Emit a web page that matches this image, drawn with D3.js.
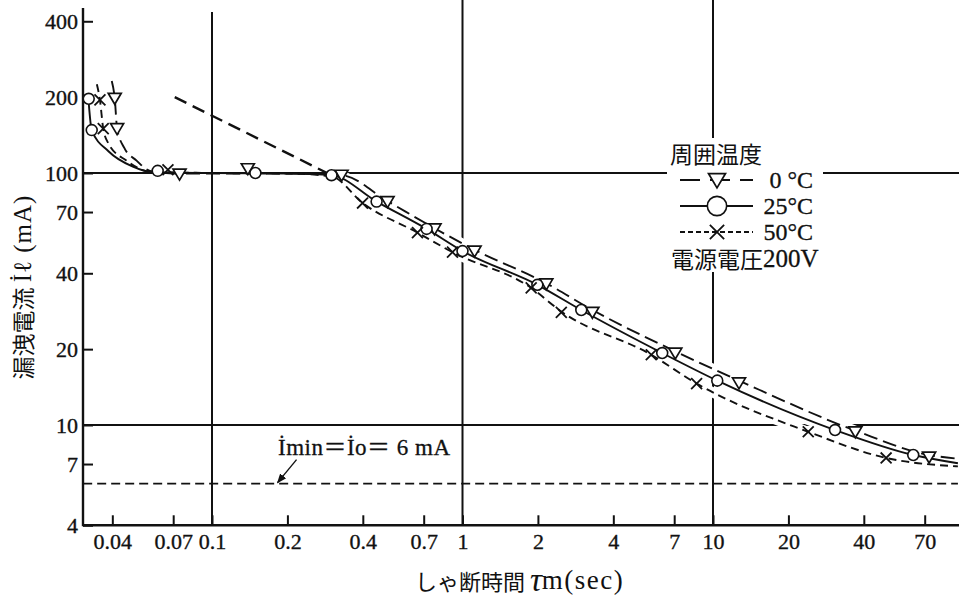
<!DOCTYPE html>
<html>
<head>
<meta charset="utf-8">
<script src="https://cdn.jsdelivr.net/npm/d3@7"></script>
<style>
  body { margin: 0; background: #fff; }
  svg { display: block; }
</style>
</head>
<body>
<div id="chart"></div>
<script>
// Tick values and labels
const xTicks = [0.04, 0.07, 0.1, 0.2, 0.4, 0.7, 1, 2, 4, 7, 10, 20, 40, 70];
const xTickLabels = ["0.04", "0.07", "0.1", "0.2", "0.4", "0.7", "1", "2", "4", "7", "10", "20", "40", "70"];
const yTicks = [4, 7, 10, 20, 40, 70, 100, 200, 400];
const xGrid = [0.1, 1, 10];
const yGrid = [10, 100];

// Measured points (sec, mA)
const pts0 = [[0.0409, 198], [0.0418, 150], [0.0742, 99], [0.139, 104], [0.329, 98], [0.502, 77], [0.773, 60], [1.117, 49], [2.16, 36.3], [3.30, 28], [7.07, 19.3], [12.7, 14.7], [37.0, 9.4], [72.9, 7.46]];
const pts25 = [[0.0322, 197], [0.0331, 148], [0.0607, 102], [0.149, 100], [0.300, 98], [0.454, 77], [0.719, 60], [1.0, 49], [1.99, 36], [2.98, 28.6], [6.27, 19.3], [10.4, 15], [30.7, 9.55], [63, 7.6]];
const pts50 = [[0.0357, 195], [0.0368, 150], [0.0667, 103], [0.399, 76], [0.661, 58], [0.912, 48.5], [1.88, 35], [2.48, 28], [5.67, 19], [8.6, 14.6], [24, 9.4], [49.1, 7.4]];

// Fitted curves
const curve0 = [[0.0398, 232], [0.0409, 198], [0.0418, 150], [0.0446, 126], [0.050, 112], [0.0565, 102], [0.075, 99.5], [0.2, 99.5], [0.33, 98], [0.5, 77.5], [0.77, 60.5], [1.12, 49.5], [2.16, 36.5], [3.3, 28.6], [7.07, 19.6], [12.7, 15.0], [37, 9.5], [73, 7.6], [95, 7.35]];
const curve25 = [[0.0322, 190], [0.0331, 148], [0.0386, 122], [0.0483, 106], [0.0575, 101], [0.1, 100], [0.2, 99.5], [0.3, 98], [0.454, 77], [0.719, 60], [1.0, 49], [1.99, 36], [2.98, 28.6], [6.27, 19.3], [10.4, 15.0], [30.7, 9.55], [63, 7.6], [95, 7.05]];
const curve50 = [[0.0347, 225], [0.0357, 195], [0.0368, 150], [0.0386, 131], [0.0455, 112], [0.0575, 101], [0.1, 100], [0.2, 99.5], [0.3, 97], [0.399, 76], [0.661, 58], [0.912, 48.5], [1.88, 35], [2.48, 28.2], [5.67, 19], [8.6, 14.6], [24, 9.4], [49.1, 7.4], [95, 6.85]];

// Steep dashed reference line and Imin level
const refLine = [[0.071, 200], [0.3, 98]];
const iMin = 5.85;
const iMinRange = [0.0306, 95];
const iMinArrowAt = 0.181;

const legendTitle = "周囲温度";
const legendLabels = ["0 °C", "25°C", "50°C"];
const legendNote = "電源電圧200V";

const width = 959, height = 604;
const serif = "'Liberation Serif', 'DejaVu Serif', serif";
const cjk = "'Noto Sans CJK JP', sans-serif";

const x = d3.scaleLog().domain([0.1, 10]).range([212, 713]);
const y = d3.scaleLog().domain([10, 100]).range([425, 173]);

const axisLeft = 83, axisBottom = y(4), axisTop = 8;

const svg = d3.select("#chart")
  .append("svg")
  .attr("width", width)
  .attr("height", height);

svg.append("rect").attr("width", width).attr("height", height).attr("fill", "#fff");

svg.append("defs").append("marker")
  .attr("id", "arrow")
  .attr("viewBox", "0 0 10 10")
  .attr("refX", 9).attr("refY", 5)
  .attr("markerWidth", 7).attr("markerHeight", 7)
  .attr("orient", "auto")
  .append("path")
  .attr("d", "M0,1 L10,5 L0,9 Z")
  .attr("fill", "#111");

// Grid lines
svg.selectAll(".vgrid")
  .data(xGrid)
  .join("line")
  .attr("x1", d => x(d)).attr("x2", d => x(d))
  .attr("y1", d => d === 0.1 ? 12 : 0).attr("y2", axisBottom)
  .attr("stroke", "#111").attr("stroke-width", 2);

svg.selectAll(".hgrid")
  .data(yGrid)
  .join("line")
  .attr("x1", axisLeft).attr("x2", width)
  .attr("y1", d => y(d)).attr("y2", d => y(d))
  .attr("stroke", "#111").attr("stroke-width", 2);

// Axes
const xAxis = svg.append("g")
  .attr("transform", `translate(0,${axisBottom})`)
  .call(d3.axisBottom(x).tickValues(xTicks).tickSize(-10).tickPadding(8)
    .tickFormat((d, i) => xTickLabels[i]));
xAxis.select(".domain").remove();
xAxis.selectAll(".tick line").attr("stroke", "#111").attr("stroke-width", 2);
xAxis.selectAll(".tick text")
  .style("font-family", serif).style("font-size", "22px")
  .attr("fill", "#111").attr("stroke", "#111").attr("stroke-width", 0.35)
  .attr("dy", "0.72em");

const yAxis = svg.append("g")
  .attr("transform", `translate(${axisLeft},0)`)
  .call(d3.axisRight(y).tickValues(yTicks).tickSize(10).tickFormat(d3.format("d")));
yAxis.select(".domain").remove();
yAxis.selectAll(".tick line").attr("stroke", "#111").attr("stroke-width", 2);
yAxis.selectAll(".tick text")
  .attr("x", -5).attr("text-anchor", "end")
  .style("font-family", serif).style("font-size", "22px")
  .attr("fill", "#111").attr("stroke", "#111").attr("stroke-width", 0.35);

svg.append("line")
  .attr("x1", axisLeft).attr("x2", axisLeft).attr("y1", axisTop).attr("y2", axisBottom + 1)
  .attr("stroke", "#111").attr("stroke-width", 2.4);
svg.append("line")
  .attr("x1", axisLeft).attr("x2", width).attr("y1", axisBottom).attr("y2", axisBottom)
  .attr("stroke", "#111").attr("stroke-width", 2.4);

// Legend background masks the grid lines
svg.append("rect")
  .attr("x", 667).attr("y", 138).attr("width", 156).attr("height", 134)
  .attr("fill", "#fff");

const line = d3.line()
  .x(d => x(d[0]))
  .y(d => y(d[1]))
  .curve(d3.curveMonotoneX);

const series = [
  { curve: curve0, pts: pts0, dash: "14,6", shape: "tri" },
  { curve: curve25, pts: pts25, dash: null, shape: "circle" },
  { curve: curve50, pts: pts50, dash: "8,5", shape: "x" }
];

// White halo under curves where they cross the grid
svg.selectAll(".halo")
  .data(series)
  .join("path")
  .attr("d", d => line(d.curve.filter(p => p[0] >= 0.29)))
  .attr("fill", "none").attr("stroke", "#fff").attr("stroke-width", 10);

// Reference dashed line
svg.append("path")
  .attr("d", d3.line().x(d => x(d[0])).y(d => y(d[1]))(refLine))
  .attr("fill", "none").attr("stroke", "#111").attr("stroke-width", 2.4)
  .attr("stroke-dasharray", "13,7");

// Imin line
svg.append("line")
  .attr("x1", x(iMinRange[0])).attr("x2", x(iMinRange[1]))
  .attr("y1", y(iMin)).attr("y2", y(iMin))
  .attr("stroke", "#111").attr("stroke-width", 1.8)
  .attr("stroke-dasharray", "9,5");

// Curves
svg.selectAll(".curve")
  .data(series)
  .join("path")
  .attr("d", d => line(d.curve))
  .attr("fill", "none").attr("stroke", "#111").attr("stroke-width", 1.9)
  .attr("stroke-dasharray", d => d.dash);

// Marker drawing helper
function drawMarker(g, shape, s) {
  if (shape === "tri") {
    g.append("path")
      .attr("d", `M${-0.5 * s},${-0.38 * s} L${0.5 * s},${-0.38 * s} L0,${0.46 * s} Z`)
      .attr("fill", "#fff").attr("stroke", "#111").attr("stroke-width", 1.7);
  } else if (shape === "circle") {
    g.append("circle").attr("r", 0.42 * s)
      .attr("fill", "#fff").attr("stroke", "#111").attr("stroke-width", 1.6);
  } else {
    const h = 0.42 * s;
    g.append("path")
      .attr("d", `M${-h},${-h} L${h},${h} M${h},${-h} L${-h},${h}`)
      .attr("stroke", "#111").attr("stroke-width", 1.8);
  }
}

series.forEach(s => {
  s.pts.forEach(p => {
    const g = svg.append("g").attr("transform", `translate(${x(p[0])},${y(p[1])})`);
    drawMarker(g, s.shape, 13);
  });
});

// Legend
svg.append("text")
  .attr("x", 670).attr("y", 153).attr("dominant-baseline", "central")
  .style("font-family", cjk).style("font-size", "23px").attr("fill", "#111")
  .text(legendTitle);

series.forEach((s, i) => {
  const ly = 180 + i * 26;
  svg.append("line")
    .attr("x1", 680).attr("x2", 753).attr("y1", ly).attr("y2", ly)
    .attr("stroke", "#111").attr("stroke-width", 1.9)
    .attr("stroke-dasharray", i === 0 ? "20,10" : i === 2 ? "5,3" : null);
  const g = svg.append("g").attr("transform", `translate(717,${ly})`);
  drawMarker(g, s.shape, i === 1 ? 23 : 17);
  svg.append("text")
    .attr("x", 813).attr("y", ly).attr("text-anchor", "end").attr("dominant-baseline", "central")
    .style("font-family", serif).style("font-size", "24px")
    .attr("fill", "#111").attr("stroke", "#111").attr("stroke-width", 0.3)
    .text(legendLabels[i]);
});

const note = svg.append("text")
  .attr("x", 671).attr("y", 258).attr("dominant-baseline", "central")
  .style("font-size", "23px").attr("fill", "#111");
note.append("tspan").style("font-family", cjk).text(legendNote.slice(0, 4));
note.append("tspan").style("font-family", serif).style("font-size", "25px")
  .attr("stroke", "#111").attr("stroke-width", 0.3).text(legendNote.slice(4));

// Imin annotation
const ax = x(iMinArrowAt), ay = y(iMin);
svg.append("line")
  .attr("x1", ax + 20).attr("y1", ay - 24).attr("x2", ax + 1).attr("y2", ay - 1)
  .attr("stroke", "#111").attr("stroke-width", 1.4)
  .attr("marker-end", "url(#arrow)");

svg.append("text")
  .attr("x", 278).attr("y", 447).attr("dominant-baseline", "central")
  .style("font-family", serif + ", " + cjk).style("font-size", "23px")
  .style("letter-spacing", "0.5px").attr("fill", "#111")
  .attr("stroke", "#111").attr("stroke-width", 0.3)
  .text("İmin＝İo＝ 6 mA");

// Axis titles
const xt = svg.append("text")
  .attr("x", 415).attr("y", 580).attr("dominant-baseline", "central")
  .attr("fill", "#111");
xt.append("tspan").style("font-family", cjk).style("font-size", "22px").text("しゃ断時間 ");
xt.append("tspan").style("font-family", serif).style("font-style", "italic").style("font-size", "33px").text("τ");
xt.append("tspan").style("font-family", serif).style("font-size", "27px").style("letter-spacing", "1.5px").text("m(sec)");

const yt = svg.append("text")
  .attr("transform", "translate(22,287) rotate(-90)")
  .attr("text-anchor", "middle").attr("dominant-baseline", "central")
  .attr("fill", "#111");
yt.append("tspan").style("font-family", cjk).style("font-size", "23px").text("漏洩電流 ");
yt.append("tspan").style("font-family", serif).style("font-size", "25px").style("letter-spacing", "1px").text("İℓ (mA)");
</script>
</body>
</html>
